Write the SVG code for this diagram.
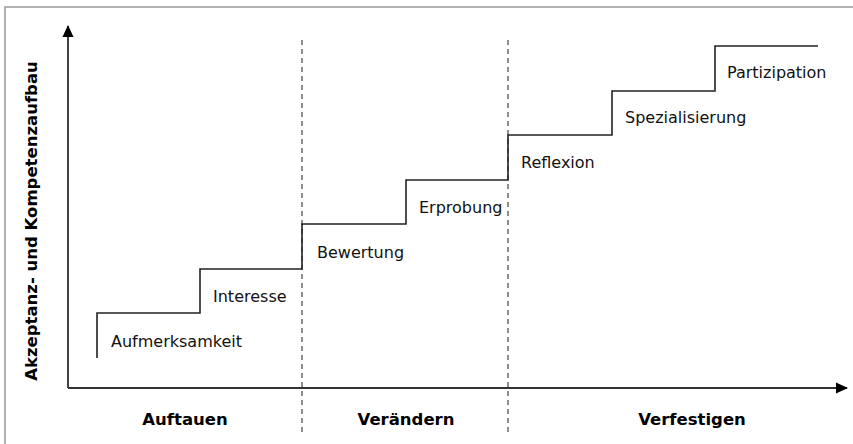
<svg xmlns="http://www.w3.org/2000/svg" width="853" height="444" viewBox="0 0 853 444">
<style>
.frame{fill:#fff;stroke:#999;stroke-width:1.5}
.axis{stroke:#333;stroke-width:2;fill:none}
.div{stroke:#444;stroke-width:1.2;stroke-dasharray:5,4;fill:none}
.step{stroke:#222;stroke-width:1.6;fill:none}
.lbl{font-family:"DejaVu Sans",Verdana,sans-serif;font-size:16px;fill:#111}
.phase{font-family:"DejaVu Sans",Verdana,sans-serif;font-size:16.5px;font-weight:bold;fill:#000;text-anchor:middle}
</style>
<defs>
<marker id="ah" markerWidth="12" markerHeight="12" refX="11" refY="6" orient="auto" markerUnits="userSpaceOnUse"><path d="M0,0.5 L12,6 L0,11.5 Z" fill="#000"/></marker>
</defs>
<rect class="frame" x="5" y="7" width="870" height="460"/>
<g id="connectors">
<line class="div" x1="302" y1="40" x2="302" y2="434"/>
<line class="div" x1="508" y1="40" x2="508" y2="434"/>
<line class="axis" x1="68" y1="388" x2="68" y2="26" marker-end="url(#ah)" style="stroke:#000;stroke-width:1.5"/>
<line class="axis" x1="68" y1="388" x2="847" y2="388" marker-end="url(#ah)"/>
<path class="step" d="M97,358 V313 H200 V269 H302 V224 H406 V180 H508 V135 H612 V91 H715 V46 H818"/>
</g>
<g id="axis-label"><text class="phase" transform="translate(37,221) rotate(-90)">Akzeptanz- und Kompetenzaufbau</text></g>
<g id="step-aufmerksamkeit"><text class="lbl" x="111" y="347">Aufmerksamkeit</text></g>
<g id="step-interesse"><text class="lbl" x="213" y="302">Interesse</text></g>
<g id="step-bewertung"><text class="lbl" x="317" y="258">Bewertung</text></g>
<g id="step-erprobung"><text class="lbl" x="419" y="213">Erprobung</text></g>
<g id="step-reflexion"><text class="lbl" x="521" y="168">Reflexion</text></g>
<g id="step-spezialisierung"><text class="lbl" x="625" y="123">Spezialisierung</text></g>
<g id="step-partizipation"><text class="lbl" x="727" y="78">Partizipation</text></g>
<g id="phase-auftauen"><text class="phase" x="185" y="425">Auftauen</text></g>
<g id="phase-veraendern"><text class="phase" x="406" y="425">Verändern</text></g>
<g id="phase-verfestigen"><text class="phase" x="692" y="425">Verfestigen</text></g>
</svg>
